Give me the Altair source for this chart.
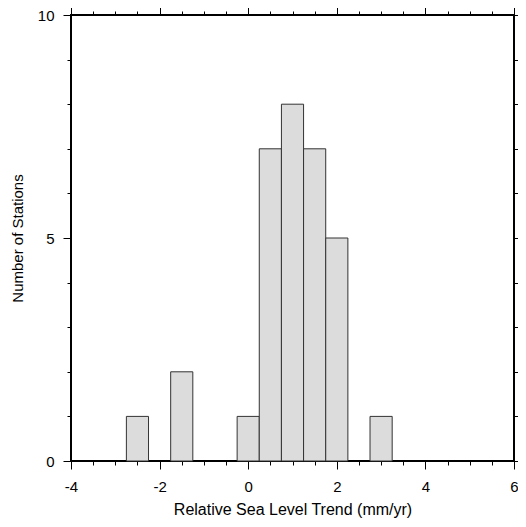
import altair as alt
import pandas as pd

# Histogram bins (left edges) and counts
bin_start = [-2.75, -1.75, -0.25, 0.25, 0.75, 1.25, 1.75, 2.75]
bin_end = [-2.25, -1.25, 0.25, 0.75, 1.25, 1.75, 2.25, 3.25]
counts = [1, 2, 1, 7, 8, 7, 5, 1]

x_major = [-4, -2, 0, 2, 4, 6]
x_minor = [-4, -3.5, -3, -2.5, -2, -1.5, -1, -0.5, 0, 0.5, 1, 1.5, 2, 2.5,
           3, 3.5, 4, 4.5, 5, 5.5, 6]
y_major = [0, 5, 10]
y_minor = [0, 1, 2, 3, 4, 5, 6, 7, 8, 9, 10]

df = pd.DataFrame({"start": bin_start, "end": bin_end, "count": counts})

xs = alt.Scale(domain=[-4, 6], nice=False, zero=False)
ys = alt.Scale(domain=[0, 10], nice=False)

FONT = "Liberation Sans"
base = alt.Chart(df)

bars = base.mark_bar(fill="#dcdcdc", stroke="#333333", strokeWidth=1).encode(
    x=alt.X("start:Q", scale=xs,
            axis=alt.Axis(orient="bottom", values=x_major, tickSize=8,
                          labelFlush=False, labelPadding=10, titlePadding=7,
                          labelExpr="'' + datum.value", titleFontSize=16,
                          title="Relative Sea Level Trend (mm/yr)")),
    x2="end:Q",
    y=alt.Y("count:Q", scale=ys,
            axis=alt.Axis(orient="left", values=y_major, tickSize=8,
                          labelFlush=False, labelPadding=9, titlePadding=12,
                          titleFontSize=15,
                          title="Number of Stations")),
    y2=alt.datum(0),
)


def tick_layer(xorient, xvals, xsize, yorient, yvals, ysize):
    return base.mark_point(opacity=0).encode(
        x=alt.X("start:Q", scale=xs,
                axis=alt.Axis(orient=xorient, values=xvals, tickSize=xsize,
                              labels=False, title=None)),
        y=alt.Y("count:Q", scale=ys,
                axis=alt.Axis(orient=yorient, values=yvals, tickSize=ysize,
                              labels=False, title=None)),
    )


l1 = tick_layer("bottom", x_minor, 4, "left", y_minor, 4)
l2 = tick_layer("top", x_major, 8, "right", y_major, 8)
l3 = tick_layer("top", x_minor, 4, "right", y_minor, 4)

chart = (
    alt.layer(bars, l1, l2, l3)
    .resolve_scale(x="shared", y="shared")
    .resolve_axis(x="independent", y="independent")
    .properties(width=443, height=446,
                autosize=alt.AutoSizeParams(type="none"),
                padding={"left": 63, "top": 7, "right": 4, "bottom": 58})
    .configure_view(stroke="black", strokeWidth=2)
    .configure_axis(grid=False, domain=False, tickColor="black", tickWidth=1,
                    labelFont=FONT, titleFont=FONT, labelFontSize=15,
                    titleFontWeight="normal",
                    labelColor="black", titleColor="black", labelOverlap=False)
)

chart.save("out.html", embed_options={"renderer": "svg", "actions": False})
